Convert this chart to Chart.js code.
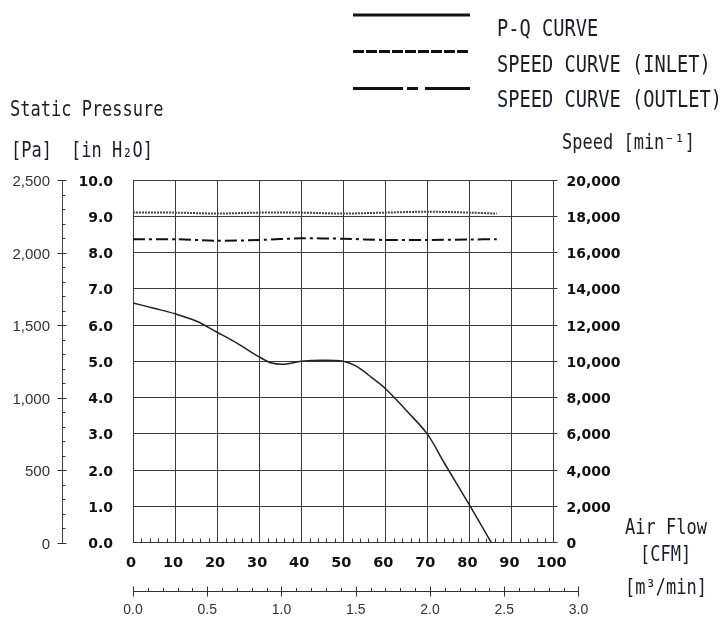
<!DOCTYPE html>
<html>
<head>
<meta charset="utf-8">
<script src="https://cdn.jsdelivr.net/npm/chart.js@4.4.1/dist/chart.umd.min.js"></script>
<style>
body{margin:0;background:#fff;}
#wrap{position:relative;width:725px;height:617px;}
.t{position:absolute;font-family:"DejaVu Sans Mono",monospace;color:#1c1c2c;white-space:nowrap;line-height:20px;font-size:17px;}
.t span{display:inline-block;transform:scaleY(1.2);transform-origin:50% 55%;}
.lg{font-size:18.7px;}
</style>
</head>
<body>
<div id="wrap">
  <canvas id="myChart" width="725" height="617"></canvas>

  <svg style="position:absolute;left:0;top:0" width="725" height="110">
    <line x1="353" y1="15" x2="470" y2="15" stroke="#111" stroke-width="3"/>
    <line x1="353" y1="51.5" x2="470" y2="51.5" stroke="#111" stroke-width="3" stroke-dasharray="11 2"/>
    <line x1="353" y1="88.5" x2="470" y2="88.5" stroke="#111" stroke-width="3" stroke-dasharray="50 4 11 7 60"/>
  </svg>
  <div class="t lg" style="left:497px;top:19px"><span>P-Q CURVE</span></div>
  <div class="t lg" style="left:497px;top:55px"><span>SPEED CURVE (INLET)</span></div>
  <div class="t lg" style="left:497px;top:90px"><span>SPEED CURVE (OUTLET)</span></div>

  <div class="t" style="left:10px;top:99px"><span>Static Pressure</span></div>
  <div class="t" style="left:11px;top:140px"><span>[Pa]</span></div>
  <div class="t" style="left:71px;top:140px"><span>[in H₂O]</span></div>
  <div class="t" style="left:562px;top:132px"><span>Speed [min⁻¹]</span></div>
  <div class="t" style="left:625px;top:517px"><span>Air Flow</span></div>
  <div class="t" style="left:640px;top:544px"><span>[CFM]</span></div>
  <div class="t" style="left:625px;top:577px"><span>[m³/min]</span></div>
</div>

<script>
// P-Q curve, static pressure [in H2O] vs air flow [CFM]
const cfm = [0, 5, 10, 15, 20, 25, 30, 33, 36, 40, 45, 50, 53, 56, 60, 65, 70, 74, 80, 85.2];
const pqInH2O = [6.61, 6.46, 6.31, 6.11, 5.80, 5.48, 5.12, 4.95, 4.92, 5.00, 5.03, 5.00, 4.87, 4.62, 4.25, 3.64, 2.99, 2.20, 1.04, 0];

// speed curves [min-1]
const speedCfm = [0, 10, 20, 30, 40, 50, 60, 70, 80, 86.5];
const speedInlet = [18200, 18200, 18150, 18200, 18200, 18150, 18200, 18250, 18200, 18150];
const speedOutlet = [16730, 16730, 16650, 16690, 16780, 16760, 16690, 16690, 16720, 16730];

// second air flow axis
const m3Ticks = [0, 0.5, 1.0, 1.5, 2.0, 2.5, 3.0];
const CFM_PER_M3 = 35.3147;

const LEFT = 133, RIGHT = 553.5, TOP = 180, BOTTOM = 542.5;
const W = 725, H = 617;

function pts(xs, ys){
    return xs.map((x, i) => ({x: x, y: ys[i]}));
}

const extraTicks = {
    id: 'extraTicks',
    afterDraw(chart){
        const ctx = chart.ctx;
        const x = chart.scales.x;
        const yPa = chart.scales.yPa;
        ctx.save();
        ctx.strokeStyle = '#333';
        ctx.lineWidth = 1;

        // Pa axis: crossing majors, minors on the right
        const ax = Math.round(yPa.right) + 0.5;
        for (let v = 0; v <= 2500; v += 100){
            const py = Math.round(yPa.getPixelForValue(v)) + 0.5;
            ctx.beginPath();
            if (v % 500 === 0){ ctx.moveTo(ax - 5, py); ctx.lineTo(ax + 4, py); }
            else { ctx.moveTo(ax, py); ctx.lineTo(ax + 3, py); }
            ctx.stroke();
        }

        // CFM minor ticks inside the plot
        const by = chart.chartArea.bottom;
        for (let v = 2; v < 100; v += 2){
            if (v % 10 === 0) continue;
            const px = Math.round(x.getPixelForValue(v)) + 0.5;
            ctx.beginPath();
            ctx.moveTo(px, by);
            ctx.lineTo(px, by - 4);
            ctx.stroke();
        }

        // m3/min axis
        const ly = 591.5;
        const x0 = x.getPixelForValue(0);
        const x3 = x.getPixelForValue(3 * CFM_PER_M3);
        ctx.beginPath();
        ctx.moveTo(x0, ly);
        ctx.lineTo(x3, ly);
        ctx.stroke();
        for (let i = 0; i <= 30; i++){
            const px = Math.round(x.getPixelForValue(i / 10 * CFM_PER_M3)) + 0.5;
            ctx.beginPath();
            if (i % 5 === 0){ ctx.moveTo(px, ly - 5); ctx.lineTo(px, ly + 5); }
            else { ctx.moveTo(px, ly - 3.5); ctx.lineTo(px, ly); }
            ctx.stroke();
        }
        ctx.fillStyle = '#333';
        ctx.font = '14px "Liberation Sans", Arial, sans-serif';
        ctx.textAlign = 'center';
        ctx.textBaseline = 'middle';
        m3Ticks.forEach(v => {
            ctx.fillText(v.toFixed(1), x.getPixelForValue(v * CFM_PER_M3), 610);
        });
        ctx.restore();
    }
};

const gridColor = '#3a3a3a';
const boldFont = {family: '"DejaVu Sans", sans-serif', size: 14, weight: 'bold'};

new Chart(document.getElementById('myChart'), {
    type: 'line',
    data: {
        datasets: [
            {
                label: 'P-Q CURVE',
                data: pts(cfm, pqInH2O),
                yAxisID: 'y',
                borderColor: '#222',
                borderWidth: 1.5,
                pointRadius: 0,
                tension: 0.35
            },
            {
                label: 'SPEED CURVE (INLET)',
                data: pts(speedCfm, speedInlet),
                yAxisID: 'ySpeed',
                borderColor: '#444',
                borderWidth: 2,
                borderDash: [2, 1],
                pointRadius: 0,
                tension: 0.3
            },
            {
                label: 'SPEED CURVE (OUTLET)',
                data: pts(speedCfm, speedOutlet),
                yAxisID: 'ySpeed',
                borderColor: '#111',
                borderWidth: 2,
                borderDash: [12, 4, 3, 4],
                pointRadius: 0,
                tension: 0.3
            }
        ]
    },
    options: {
        responsive: false,
        animation: false,
        devicePixelRatio: 1,
        layout: { padding: { top: TOP, left: 0, right: 0, bottom: 0 } },
        plugins: { legend: { display: false }, tooltip: { enabled: false } },
        scales: {
            x: {
                type: 'linear',
                position: 'bottom',
                min: 0, max: 100,
                ticks: { stepSize: 10, padding: 12, labelOffset: -2, color: '#111', font: {family: '"DejaVu Sans", sans-serif', size: 14.5, weight: 'bold'} },
                grid: { color: gridColor, drawTicks: false },
                border: { color: gridColor },
                afterFit: s => { s.height = H - BOTTOM; }
            },
            y: {
                position: 'left',
                weight: 0,
                min: 0, max: 10,
                ticks: { stepSize: 1, padding: 20, labelOffset: 2, color: '#111', font: boldFont, callback: v => v.toFixed(1) },
                grid: { color: gridColor, drawTicks: false },
                border: { color: gridColor },
                afterFit: s => { s.width = LEFT - 62; }
            },
            yPa: {
                position: 'left',
                weight: 1,
                min: 0, max: 2500,
                ticks: { stepSize: 500, padding: 12, labelOffset: 2, color: '#333', font: {family: '"Liberation Sans", Arial, sans-serif', size: 15}, callback: v => v.toLocaleString('en-US') },
                grid: { drawOnChartArea: false, drawTicks: false },
                border: { color: '#444' },
                afterFit: s => { s.width = 62; }
            },
            ySpeed: {
                position: 'right',
                min: 0, max: 20000,
                ticks: { stepSize: 2000, padding: 9, labelOffset: 2, color: '#111', font: boldFont, callback: v => v.toLocaleString('en-US') },
                grid: { drawOnChartArea: false, tickLength: 4, color: '#333' },
                border: { color: gridColor },
                afterFit: s => { s.width = W - RIGHT; }
            }
        }
    },
    plugins: [extraTicks]
});
</script>
</body>
</html>
